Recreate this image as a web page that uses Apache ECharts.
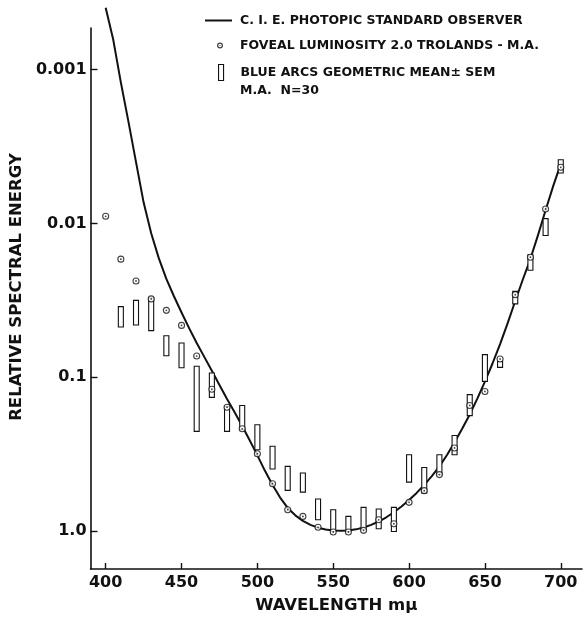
<!DOCTYPE html>
<html>
<head>
<meta charset="utf-8">
<script src="https://cdn.jsdelivr.net/npm/echarts@6/dist/echarts.min.js"></script>
<style>
  html, body { margin: 0; padding: 0; background: #fff; }
  #chart { width: 584px; height: 620px; }
</style>
</head>
<body>
<div id="chart"></div>
<script>
// C.I.E. photopic standard observer (relative luminosity), 5 nm steps
var cieWl = [400, 405, 410, 415, 420, 425, 430, 435, 440, 445, 450, 455, 460, 465, 470, 475, 480, 485, 490, 495,
  500, 505, 510, 515, 520, 525, 530, 535, 540, 545, 550, 555, 560, 565, 570, 575, 580, 585, 590, 595,
  600, 605, 610, 615, 620, 625, 630, 635, 640, 645, 650, 655, 660, 665, 670, 675, 680, 685, 690, 695, 700];
var cieV = [0.000396, 0.00064, 0.00121, 0.00218, 0.004, 0.0073, 0.0116, 0.01684, 0.023, 0.0298,
  0.038, 0.048, 0.06, 0.0739, 0.09098, 0.1126, 0.13902, 0.1693, 0.20802, 0.2586,
  0.323, 0.4073, 0.503, 0.6082, 0.71, 0.7932, 0.862, 0.91485, 0.954, 0.9803,
  0.99495, 1.0, 0.995, 0.9786, 0.952, 0.9154, 0.87, 0.8163, 0.757, 0.6949,
  0.631, 0.5668, 0.503, 0.4412, 0.381, 0.321, 0.265, 0.217, 0.175, 0.1382,
  0.107, 0.0816, 0.061, 0.04458, 0.032, 0.0232, 0.017, 0.01192, 0.00821, 0.005723, 0.004102];

// foveal luminosity, 2.0 trolands (circles)
var fovWl = [400, 410, 420, 430, 440, 450, 460, 470, 480, 490, 500, 510, 520, 530, 540, 550, 560, 570,
  580, 590, 600, 610, 620, 630, 640, 650, 660, 670, 680, 690, 700];
var fovVal = [0.0090, 0.0171, 0.0237, 0.0310, 0.0368, 0.0461, 0.0730, 0.120, 0.157, 0.217, 0.315, 0.494,
  0.729, 0.806, 0.949, 1.018, 1.018, 0.993, 0.848, 0.900, 0.653, 0.548, 0.431, 0.289, 0.153, 0.124,
  0.0762, 0.0291, 0.0166, 0.00806, 0.00432];

// blue arcs, geometric mean +- SEM (bars)
var arcWl = [410, 420, 430, 440, 450, 460, 470, 480, 490, 500, 510, 520, 530, 540, 550, 560, 570, 580,
  590, 600, 610, 620, 630, 640, 650, 660, 670, 680, 690, 700];
var arcLow = [0.0348, 0.0317, 0.0305, 0.0538, 0.0600, 0.0851, 0.0940, 0.155, 0.153, 0.204, 0.282, 0.381,
  0.421, 0.621, 0.730, 0.806, 0.704, 0.721, 0.704, 0.320, 0.387, 0.320, 0.240, 0.130, 0.0714, 0.0791,
  0.0277, 0.0160, 0.00931, 0.00386];
var arcHigh = [0.0472, 0.0458, 0.0499, 0.0727, 0.0869, 0.2255, 0.1355, 0.2255, 0.220, 0.297, 0.396, 0.546,
  0.560, 0.847, 1.01, 1.01, 0.984, 0.969, 1.01, 0.482, 0.567, 0.431, 0.320, 0.178, 0.1066, 0.0865,
  0.0334, 0.0202, 0.0120, 0.00470];

var xTicks = [400, 450, 500, 550, 600, 650, 700];
var yTicks = [0.001, 0.01, 0.1, 1];
var yTickLabels = ['0.001', '0.01', '0.1', '1.0'];

var nameCie = 'C. I. E. PHOTOPIC STANDARD OBSERVER';
var nameFov = 'FOVEAL LUMINOSITY 2.0 TROLANDS - M.A.';
var nameArc = 'BLUE ARCS GEOMETRIC MEAN\u00b1 SEM';

var ink = '#111';
var font = 'DejaVu Sans';

var cieData = cieWl.map(function (w, i) { return [w, cieV[i]]; });
var fovData = fovWl.map(function (w, i) { return [w, fovVal[i]]; });
var arcData = arcWl.map(function (w, i) { return [w, arcLow[i], arcHigh[i]]; });

// ring with a centre dot, for the legend
var ringIcon = 'path://M0,5A5,5,0,1,1,10,5A5,5,0,1,1,0,5ZM2,5A3,3,0,1,0,8,5A3,3,0,1,0,2,5ZM4,5A1,1,0,1,1,6,5A1,1,0,1,1,4,5Z';

var legendText = { color: ink, fontFamily: font, fontWeight: 'bold', fontSize: 12.5 };

var option = {
  backgroundColor: '#fff',
  animation: false,
  grid: { left: 86, right: 2, top: 28, bottom: 51 },
  legend: [
    {
      left: 205, top: 14, padding: 0, itemWidth: 27, itemHeight: 2,
      data: [{ name: nameCie, icon: 'rect', itemStyle: { color: ink } }],
      textStyle: Object.assign({ padding: [0, 0, 0, 3] }, legendText)
    },
    {
      left: 217, top: 39, padding: 0, itemWidth: 6, itemHeight: 6,
      data: [{ name: nameFov, icon: ringIcon, itemStyle: { color: ink, borderWidth: 0 } }],
      textStyle: Object.assign({ padding: [0, 0, 0, 12] }, legendText)
    },
    {
      left: 218, top: 64, padding: 0, itemWidth: 5, itemHeight: 16,
      data: [{ name: nameArc, icon: 'rect', itemStyle: { color: '#fff', borderColor: ink, borderWidth: 1.1 } }],
      textStyle: Object.assign({ padding: [0, 0, 0, 12] }, legendText)
    }
  ],
  graphic: [
    { type: 'text', left: 240, top: 84, style: { text: 'M.A.  N=30', fill: ink, font: 'bold 12.5px "DejaVu Sans"' } }
  ],
  xAxis: {
    type: 'value', min: 390, max: 714,
    name: 'WAVELENGTH m\u03bc', nameLocation: 'middle', nameGap: 28,
    nameTextStyle: { color: ink, fontFamily: font, fontWeight: 'bold', fontSize: 16.5 },
    axisLine: { show: true, lineStyle: { color: ink, width: 1.6 } },
    axisTick: { show: true, inside: true, length: 6, customValues: xTicks, lineStyle: { color: ink, width: 1.4 } },
    axisLabel: { customValues: xTicks, margin: 6, color: ink, fontFamily: font, fontWeight: 'bold', fontSize: 16 },
    splitLine: { show: false }
  },
  yAxis: {
    type: 'log', logBase: 10, inverse: true, min: 0.000536, max: 1.772,
    name: 'RELATIVE SPECTRAL ENERGY', nameLocation: 'middle', nameGap: 58,
    nameTextStyle: { color: ink, fontFamily: font, fontWeight: 'bold', fontSize: 16.5, padding: [0, 0, 0, 23] },
    axisLine: { show: true, lineStyle: { color: ink, width: 1.6 } },
    axisTick: { show: true, inside: true, length: 7, customValues: yTicks, lineStyle: { color: ink, width: 1.4 } },
    axisLabel: {
      customValues: yTicks, margin: 4, color: ink, fontFamily: font, fontWeight: 'bold', fontSize: 16,
      formatter: function (v) {
        var i = yTicks.findIndex(function (t) { return Math.abs(Math.log10(t) - Math.log10(v)) < 0.01; });
        return i >= 0 ? yTickLabels[i] : '';
      }
    },
    splitLine: { show: false }
  },
  series: [
    {
      name: nameCie, type: 'line', data: cieData, smooth: false, showSymbol: false, clip: false,
      color: ink, lineStyle: { color: ink, width: 2, join: 'round' }, z: 2
    },
    {
      name: nameArc, type: 'custom', data: arcData, encode: { x: 0, y: [1, 2] }, z: 3,
      renderItem: function (params, api) {
        var p1 = api.coord([api.value(0), api.value(1)]);
        var p2 = api.coord([api.value(0), api.value(2)]);
        return {
          type: 'rect',
          shape: { x: p1[0] - 2.5, y: Math.min(p1[1], p2[1]), width: 5, height: Math.abs(p2[1] - p1[1]) },
          style: { fill: '#fff', stroke: ink, lineWidth: 1.1 }
        };
      }
    },
    {
      name: nameFov, type: 'scatter', data: fovData, symbol: 'circle', symbolSize: 6, z: 4,
      itemStyle: { color: '#fff', borderColor: ink, borderWidth: 1.1 }
    },
    {
      type: 'scatter', data: fovData, symbol: 'circle', symbolSize: 1.8, z: 5, silent: true,
      itemStyle: { color: ink }
    }
  ]
};

var myChart = echarts.init(document.getElementById('chart'));
myChart.setOption(option);
</script>
</body>
</html>
